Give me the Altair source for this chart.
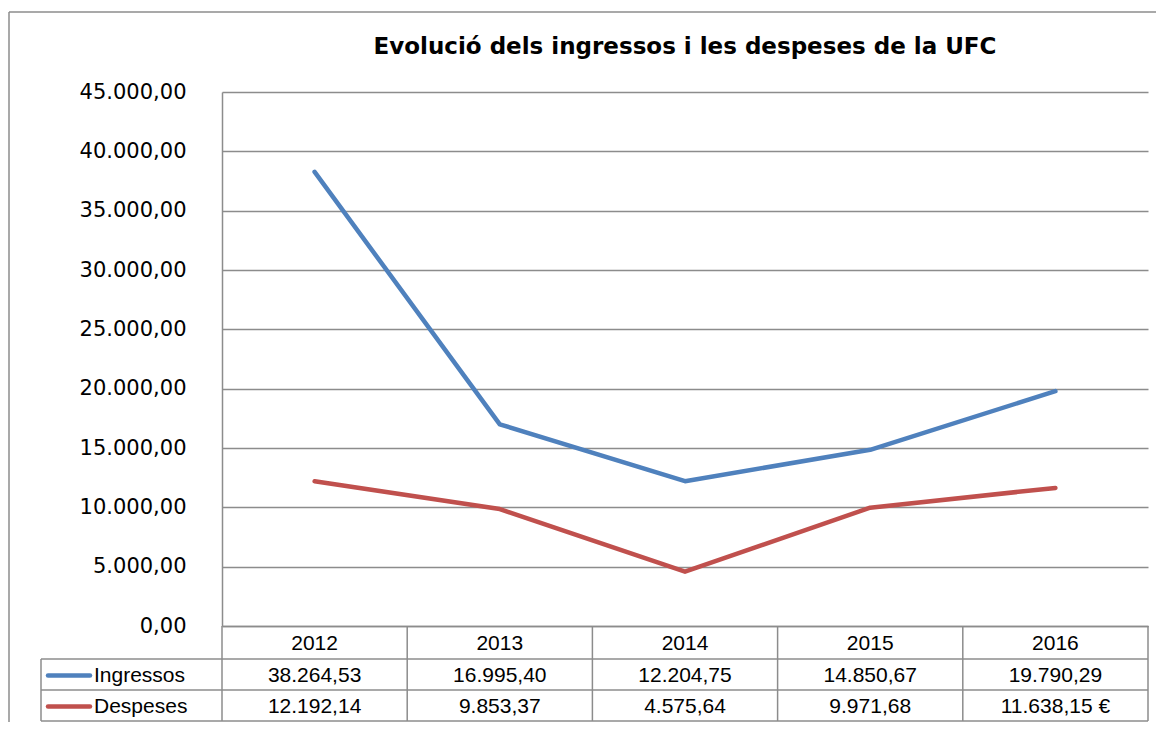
import altair as alt
import pandas as pd

years = ["2012", "2013", "2014", "2015", "2016"]
ingressos = [38264.53, 16995.40, 12204.75, 14850.67, 19790.29]
despeses = [12192.14, 9853.37, 4575.64, 9971.68, 11638.15]
series = ["Ingressos", "Despeses"]
colors = ["#4F81BD", "#C0504D"]
y_ticks = [0, 5000, 10000, 15000, 20000, 25000, 30000, 35000, 40000, 45000]
title_text = "Evolució dels ingressos i les despeses de la UFC"
suffix_last = " €"

FONT = "Liberation Sans"
WIDE_FONT = "DejaVu Sans"
W, H = 926, 534
GRID = "#8C8C8C"
ROW0, ROW = 33, 31           # header row / data rows height
T = ROW0 + 2 * ROW           # table height
PAD = {"left": 214, "top": 84, "right": 8, "bottom": 96}


def fmt(v):
    s = f"{v:,.2f}"
    return s.replace(",", "#").replace(".", ",").replace("#", ".")


rows = []
for s, vals in zip(series, [ingressos, despeses]):
    for i, (yr, v) in enumerate(zip(years, vals)):
        lab = fmt(v)
        if s == "Despeses" and i == len(years) - 1:
            lab += suffix_last
        rows.append({"Any": yr, "Serie": s, "Valor": v, "Etiqueta": lab})
df = pd.DataFrame(rows)
df_years = pd.DataFrame({"Any": years})
df_legend = pd.DataFrame({"Serie": series})
df_title = pd.DataFrame({"t": [title_text]})

xscale = alt.Scale(type="band", domain=years, paddingInner=0, paddingOuter=0)
yscale = alt.Scale(domain=[0, 45000], nice=False, zero=True)
cscale = alt.Scale(domain=series, range=colors)

base = alt.Chart(df)

lines = base.mark_line(strokeWidth=4.5, strokeCap="round", strokeJoin="round").encode(
    x=alt.X("Any:N", scale=xscale, bandPosition=0.5,
            axis=alt.Axis(title=None, ticks=False, labels=False, domain=True,
                          domainColor=GRID, domainWidth=1.5, grid=False)),
    y=alt.Y("Valor:Q", scale=yscale,
            axis=alt.Axis(title=None, values=y_ticks, ticks=False, grid=True,
                          gridColor=GRID, gridWidth=1.3, domainColor=GRID, domainWidth=1.5,
                          labelFont=WIDE_FONT, labelFontSize=21, labelColor="#000000",
                          labelPadding=36,
                          labelExpr="replace(replace(replace(format(datum.value, ',.2f'), ',', '#'), '.', ','), '#', '.')")),
    color=alt.Color("Serie:N", scale=cscale, legend=None),
    detail="Serie:N",
)

# Title as a text mark centred over the plot area
title_mark = alt.Chart(df_title).mark_text(font=WIDE_FONT, fontSize=23, fontWeight="bold", color="#000000",
                                           align="center", baseline="alphabetic").encode(
    x=alt.value(W / 2),
    y=alt.value(-38),
    text="t:N",
)

# Year labels (header row of data table)
year_text = alt.Chart(df_years).mark_text(font=FONT, fontSize=21, color="#000000", baseline="middle").encode(
    x=alt.X("Any:N", scale=xscale, bandPosition=0.5),
    y=alt.value(H + ROW0 / 2 + 1),
    text="Any:N",
)

# Vertical table borders at band boundaries
vlines = alt.Chart(df_years).mark_rule(color=GRID, strokeWidth=1.5).encode(
    x=alt.X("Any:N", scale=xscale, bandPosition=0),
    y=alt.value(H),
    y2=alt.value(H + T),
)
vline_right = alt.Chart(df_years).transform_filter(alt.datum.Any == years[-1]).mark_rule(
    color=GRID, strokeWidth=1.5).encode(
    x=alt.X("Any:N", scale=xscale, bandPosition=1),
    y=alt.value(H),
    y2=alt.value(H + T),
)

# Horizontal table borders
hl_rows = pd.DataFrame({"r": [1, 2, 3]})
hlines = alt.Chart(hl_rows).mark_rule(color=GRID, strokeWidth=1.5).encode(
    x=alt.value(-181), x2=alt.value(W),
    y=alt.Y("r:Q", scale=alt.Scale(domain=[1, 3], range=[H + ROW0, H + T]), axis=None),
)
legend_left = alt.Chart(df_years.head(1)).mark_rule(color=GRID, strokeWidth=1.5).encode(
    x=alt.value(-181), y=alt.value(H + ROW0), y2=alt.value(H + T),
)

row_y = alt.Y("Serie:N", scale=alt.Scale(type="point", padding=0, domain=series,
                                           range=[H + ROW0 + ROW * 0.5 + 1, H + ROW0 + ROW * 1.5 + 1]),
              axis=None)

values_text = base.mark_text(font=FONT, fontSize=21, color="#000000", baseline="middle").encode(
    x=alt.X("Any:N", scale=xscale, bandPosition=0.5),
    y=row_y,
    text="Etiqueta:N",
)

legend_sym = alt.Chart(df_legend).mark_rule(strokeWidth=4.5, strokeCap="round").encode(
    x=alt.value(-174), x2=alt.value(-132),
    y=row_y,
    color=alt.Color("Serie:N", scale=cscale, legend=None),
)
legend_txt = alt.Chart(df_legend).mark_text(font=FONT, fontSize=21, color="#000000",
                                            align="left", baseline="middle").encode(
    x=alt.value(-128),
    y=row_y,
    text="Serie:N",
)

# Outer chart frame (top and left edges)
frame_top = alt.Chart(df_years.head(1)).mark_rule(color=GRID, strokeWidth=1.5).encode(
    x=alt.value(-213), x2=alt.value(W + 20), y=alt.value(-80),
)
frame_left = alt.Chart(df_years.head(1)).mark_rule(color=GRID, strokeWidth=1.5).encode(
    x=alt.value(-213), y=alt.value(-80), y2=alt.value(H + 120),
)

chart = alt.layer(
    frame_top, frame_left, title_mark, lines, vlines, vline_right, hlines, legend_left,
    year_text, values_text, legend_sym, legend_txt,
).resolve_scale(y="independent").properties(
    width=W,
    height=H,
    padding=PAD,
    autosize=alt.AutoSizeParams(type="none"),
).configure_view(stroke=None)

chart.save("out.html", embed_options={"renderer": "svg", "actions": False})
